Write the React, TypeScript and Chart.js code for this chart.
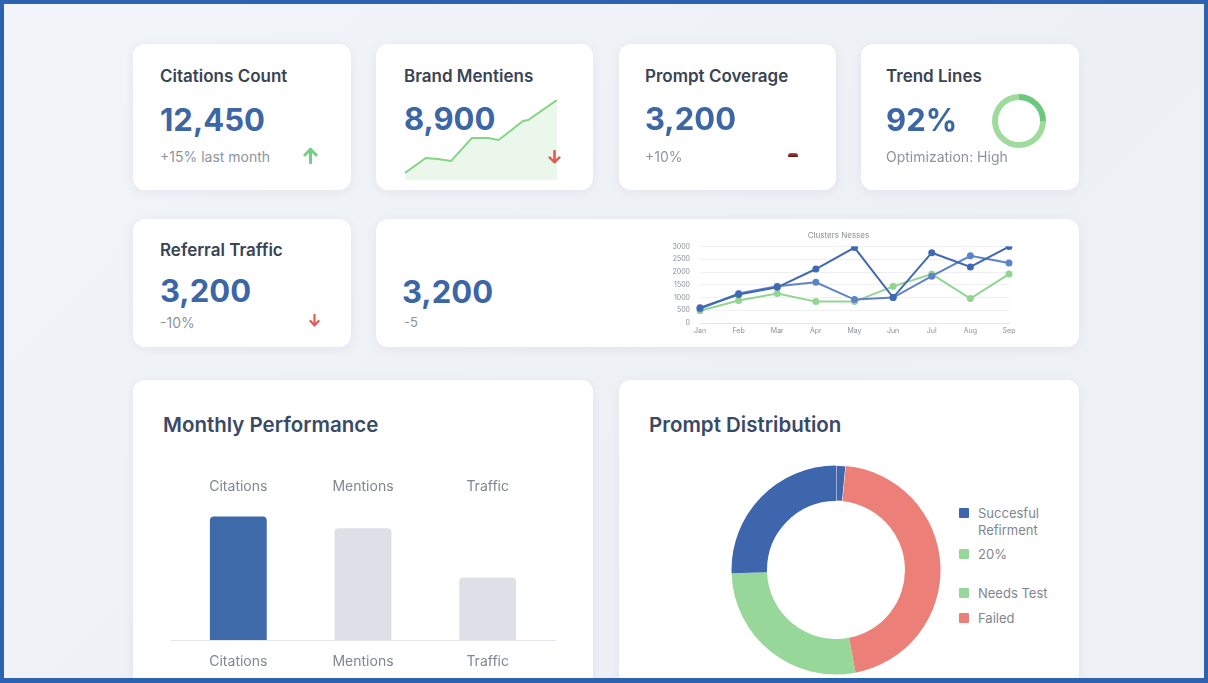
import React, { useEffect, useRef } from "react";
import { Chart, registerables } from "chart.js";

Chart.register(...registerables);

// Brand mentions sparkline (day of month -> mentions index)
const sparkDays = [0, 4.1, 6.5, 9.1, 13.2, 16.4, 18.5, 23.3, 24.3, 30];
const sparkMentions = [7, 22, 21, 19, 42, 42, 40, 59, 60, 80];

// Trend Lines ring
const trendRingLabels = ["Optimized", "Baseline"];
const trendRingValues = [25, 75];

// Clusters line chart
const clusterMonths = ["Jan", "Feb", "Mar", "Apr", "May", "Jun", "Jul", "Aug", "Sep"];
const clusterSeriesA = [600, 1120, 1400, 2120, 2960, 1000, 2760, 2200, 3000];
const clusterSeriesB = [560, 1160, 1440, 1600, 920, 1000, 1840, 2640, 2360];
const clusterSeriesC = [480, 880, 1160, 840, 840, 1440, 1920, 960, 1920];
const clusterTickStep = 500;
const clusterMax = 3000;

// Monthly performance bars
const perfCategories = ["Citations", "Mentions", "Traffic"];
const perfValues = [95, 86, 48];

// Prompt distribution doughnut (clockwise from 12 o'clock)
const distLabels = ["Succesful Refirment", "Failed", "Needs Test", "Succesful Refirment"];
const distValues = [1.5, 45.5, 27.5, 25.5];

const FONT = "Inter, 'Noto Sans', sans-serif";
const TITLE_COLOR = "#394455";
const NUMBER_COLOR = "#3c66a6";
const SUB_COLOR = "#8e949c";
const BLUE = "#3d66ac";
const GREEN = "#98d79a";
const RED = "#ec8079";

function ChartBox({ make, left, top, width, height }: any) {
  const ref = useRef<HTMLCanvasElement>(null);
  useEffect(() => {
    const chart = new Chart(ref.current as HTMLCanvasElement, make());
    return () => chart.destroy();
  }, []);
  return (
    <div style={{ position: "absolute", left, top, width, height }}>
      <canvas ref={ref} />
    </div>
  );
}

function Text({ x, cy, size, weight = 400, color, children }: any) {
  return (
    <div
      style={{
        position: "absolute",
        left: x,
        top: cy - size / 2,
        fontSize: size,
        lineHeight: `${size}px`,
        fontWeight: weight,
        color,
        fontFamily: FONT,
        whiteSpace: "nowrap",
      }}
    >
      {children}
    </div>
  );
}

function Card({ x, y, w, h }: any) {
  return (
    <div
      style={{
        position: "absolute",
        left: x,
        top: y,
        width: w,
        height: h,
        background: "#ffffff",
        borderRadius: 12,
        boxShadow: "0 2px 12px rgba(40,60,100,0.06)",
      }}
    />
  );
}

function Arrow({ x, y, w, h, color, up }: any) {
  return (
    <svg
      style={{ position: "absolute", left: x, top: y }}
      width={w}
      height={h}
      viewBox="0 0 12 14"
      preserveAspectRatio="none"
    >
      <g transform={up ? "" : "rotate(180 6 7)"}>
        <path d="M6 13 L6 2" stroke={color} strokeWidth="2.4" strokeLinecap="round" />
        <path d="M1.5 6.5 L6 1.8 L10.5 6.5" stroke={color} strokeWidth="2.4" fill="none" strokeLinecap="round" strokeLinejoin="round" />
      </g>
    </svg>
  );
}

const base = {
  animation: false,
  responsive: true,
  maintainAspectRatio: false,
  events: [],
};

function makeSpark(): any {
  return {
    type: "line",
    data: {
      datasets: [
        {
          data: sparkDays.map((d, i) => ({ x: d, y: sparkMentions[i] })),
          borderColor: "#86d486",
          backgroundColor: "rgba(196,232,196,0.35)",
          borderWidth: 2,
          pointRadius: 0,
          fill: "origin",
          tension: 0,
        },
      ],
    },
    options: {
      ...base,
      layout: { padding: 2 },
      plugins: { legend: { display: false }, tooltip: { enabled: false } },
      scales: {
        x: { type: "linear", min: 0, max: 30, display: false },
        y: { min: 0, max: 80, display: false },
      },
    },
  };
}

function makeTrendRing(): any {
  return {
    type: "doughnut",
    data: {
      labels: trendRingLabels,
      datasets: [
        {
          data: trendRingValues,
          backgroundColor: ["#6cc77f", "#9edb9c"],
          borderWidth: 0,
        },
      ],
    },
    options: {
      ...base,
      cutout: "78%",
      plugins: { legend: { display: false }, tooltip: { enabled: false } },
    },
  };
}

function makeClusters(): any {
  const ds = (data: number[], color: string) => ({
    data,
    borderColor: color,
    backgroundColor: color,
    borderWidth: 2,
    pointRadius: 2.5,
    tension: 0,
  });
  return {
    type: "line",
    data: {
      labels: clusterMonths,
      datasets: [
        ds(clusterSeriesA, "#3f69b3"),
        ds(clusterSeriesB, "#5f83c8"),
        ds(clusterSeriesC, "#92d592"),
      ],
    },
    options: {
      ...base,
      layout: { padding: { left: 0, right: 11, top: 0, bottom: 0 } },
      plugins: {
        legend: { display: false },
        tooltip: { enabled: false },
        title: {
          display: true,
          text: "Clusters Nesses",
          color: "#8a9099",
          font: { family: FONT, size: 8, weight: "normal" },
          padding: { top: 3, bottom: 6 },
        },
      },
      scales: {
        x: {
          grid: { display: false, drawTicks: false },
          border: { color: "#e3e6eb" },
          ticks: { color: "#8a9099", font: { family: FONT, size: 7 }, padding: 4, maxRotation: 0 },
          afterFit: (s: any) => {
            s.height = 17;
          },
        },
        y: {
          min: 0,
          max: clusterMax,
          grid: { color: "#eef0f3", drawTicks: false },
          border: { display: false },
          ticks: {
            stepSize: clusterTickStep,
            color: "#8a9099",
            font: { family: FONT, size: 7 },
            padding: 10,
            callback: (v: any) => String(v),
          },
          afterFit: (s: any) => {
            s.width = 32;
          },
        },
      },
    },
  };
}

// Baseline under the bars, running a little past the plot area on each side
const baselinePlugin = {
  id: "perfBaseline",
  afterDatasetsDraw(chart: any) {
    const { ctx, chartArea, scales } = chart;
    const y = Math.round(scales.y.getPixelForValue(0)) + 0.5;
    ctx.save();
    ctx.strokeStyle = "#e4e7ec";
    ctx.lineWidth = 1;
    ctx.beginPath();
    ctx.moveTo(chartArea.left - 6, y);
    ctx.lineTo(chartArea.right + 6, y);
    ctx.stroke();
    ctx.restore();
  },
};

function makePerf(): any {
  const tickFont = { family: FONT, size: 14 };
  return {
    type: "bar",
    data: {
      labels: perfCategories,
      datasets: [
        {
          data: perfValues,
          backgroundColor: ["#3f6aaa", "#dde0e6", "#dde0e6"],
          borderRadius: { topLeft: 4, topRight: 4, bottomLeft: 0, bottomRight: 0 },
          borderSkipped: "start",
          barPercentage: 1,
          categoryPercentage: 0.456,
        },
      ],
    },
    plugins: [baselinePlugin],
    options: {
      ...base,
      layout: { padding: { left: 6, right: 6, top: 0, bottom: 0 } },
      plugins: { legend: { display: false }, tooltip: { enabled: false } },
      scales: {
        x: {
          position: "bottom",
          grid: { display: false, drawTicks: false },
          border: { display: false },
          ticks: { color: "#80868f", font: tickFont, padding: 13 },
          afterFit: (s: any) => {
            s.height = 35;
          },
        },
        xTop: {
          type: "category",
          position: "top",
          labels: perfCategories,
          grid: { display: false, drawTicks: false },
          border: { display: false },
          ticks: { color: "#80868f", font: tickFont, padding: 14.6 },
          afterFit: (s: any) => {
            s.height = 40;
          },
        },
        y: { display: false, min: 0, max: 100 },
      },
    },
  };
}

function makeDist(): any {
  return {
    type: "doughnut",
    data: {
      labels: distLabels,
      datasets: [
        {
          data: distValues,
          backgroundColor: [BLUE, RED, GREEN, BLUE],
          borderColor: "#ffffff",
          borderWidth: [1, 0, 0, 0],
        },
      ],
    },
    options: {
      ...base,
      cutout: "66%",
      plugins: { legend: { display: false }, tooltip: { enabled: false } },
    },
  };
}

function LegendItem({ cy, color, lines }: any) {
  return (
    <>
      <div style={{ position: "absolute", left: 959, top: cy - 5, width: 10, height: 10, background: color, borderRadius: 1 }} />
      {lines.map((t: string, i: number) => (
        <Text key={i} x={978} cy={cy + i * 17} size={13} color="#7f868f">
          {t}
        </Text>
      ))}
    </>
  );
}

export default function App() {
  return (
    <div
      style={{
        position: "fixed",
        left: 0,
        top: 0,
        width: 1208,
        height: 683,
        overflow: "hidden",
        background: "linear-gradient(135deg, #f1f4f8 0%, #edf0f5 60%, #eef1f6 100%)",
        fontFamily: FONT,
      }}
    >
      {/* KPI row */}
      <Card x={133} y={44} w={218} h={146} />
      <Card x={376} y={44} w={217} h={146} />
      <Card x={619} y={44} w={217} h={146} />
      <Card x={861} y={44} w={218} h={146} />

      <Text x={160} cy={76} size={17} weight={600} color={TITLE_COLOR}>Citations Count</Text>
      <Text x={160} cy={119.5} size={31} weight={700} color={NUMBER_COLOR}>12,450</Text>
      <Text x={160} cy={156.5} size={14} color={SUB_COLOR}>+15% last month</Text>
      <Arrow x={303} y={147} w={15} h={17} color="#74cf80" up />

      <Text x={404} cy={76.5} size={17} weight={600} color={TITLE_COLOR}>Brand Mentiens</Text>
      <Text x={404} cy={118.5} size={31} weight={700} color={NUMBER_COLOR}>8,900</Text>
      <ChartBox make={makeSpark} left={403} top={98} width={156} height={84} />
      <Arrow x={548} y={150} w={13} h={14} color="#e25a55" />

      <Text x={645} cy={76} size={17} weight={600} color={TITLE_COLOR}>Prompt Coverage</Text>
      <Text x={645} cy={118.5} size={31} weight={700} color={NUMBER_COLOR}>3,200</Text>
      <Text x={645} cy={157} size={14} color={SUB_COLOR}>+10%</Text>
      <div
        style={{
          position: "absolute",
          left: 788,
          top: 153,
          width: 10,
          height: 4,
          borderRadius: "3px 3px 1px 1px",
          background: "linear-gradient(#d2453f, #4a1613)",
        }}
      />

      <Text x={886} cy={76} size={17} weight={600} color={TITLE_COLOR}>Trend Lines</Text>
      <Text x={886} cy={119.5} size={31} weight={700} color={NUMBER_COLOR}>92%</Text>
      <Text x={886} cy={156.5} size={14} color={SUB_COLOR}>Optimization: High</Text>
      <ChartBox make={makeTrendRing} left={992} top={94} width={54} height={54} />

      {/* Second row */}
      <Card x={133} y={219} w={218} h={128} />
      <Card x={376} y={219} w={703} h={128} />

      <Text x={160} cy={250.5} size={17} weight={600} color={TITLE_COLOR}>Referral Traffic</Text>
      <Text x={160} cy={290.5} size={31} weight={700} color={NUMBER_COLOR}>3,200</Text>
      <Text x={160} cy={322.5} size={14} color={SUB_COLOR}>-10%</Text>
      <Arrow x={309} y={314} w={11} h={13} color="#e25a55" />

      <Text x={402} cy={291.5} size={31} weight={700} color={NUMBER_COLOR}>3,200</Text>
      <Text x={404} cy={322} size={13} color={SUB_COLOR}>-5</Text>
      <ChartBox make={makeClusters} left={668} top={228} width={352} height={112} />

      {/* Bottom row */}
      <Card x={133} y={380} w={460} h={320} />
      <Card x={619} y={380} w={460} h={320} />

      <Text x={163} cy={425} size={20.5} weight={600} color="#3a4a66">Monthly Performance</Text>
      <ChartBox make={makePerf} left={170} top={470} width={386} height={205} />

      <Text x={649} cy={425} size={20.5} weight={600} color="#3a4a66">Prompt Distribution</Text>
      <ChartBox make={makeDist} left={731} top={465} width={210} height={210} />

      <LegendItem cy={513} color={BLUE} lines={["Succesful", "Refirment"]} />
      <LegendItem cy={554} color={GREEN} lines={["20%"]} />
      <LegendItem cy={593} color={GREEN} lines={["Needs Test"]} />
      <LegendItem cy={618} color={RED} lines={["Failed"]} />

      {/* Frame */}
      <div
        style={{
          position: "absolute",
          left: 0,
          top: 0,
          width: 1208,
          height: 683,
          boxSizing: "border-box",
          borderStyle: "solid",
          borderColor: "#2c63b1",
          borderWidth: "4px 4px 5px 4px",
          pointerEvents: "none",
        }}
      />
    </div>
  );
}
